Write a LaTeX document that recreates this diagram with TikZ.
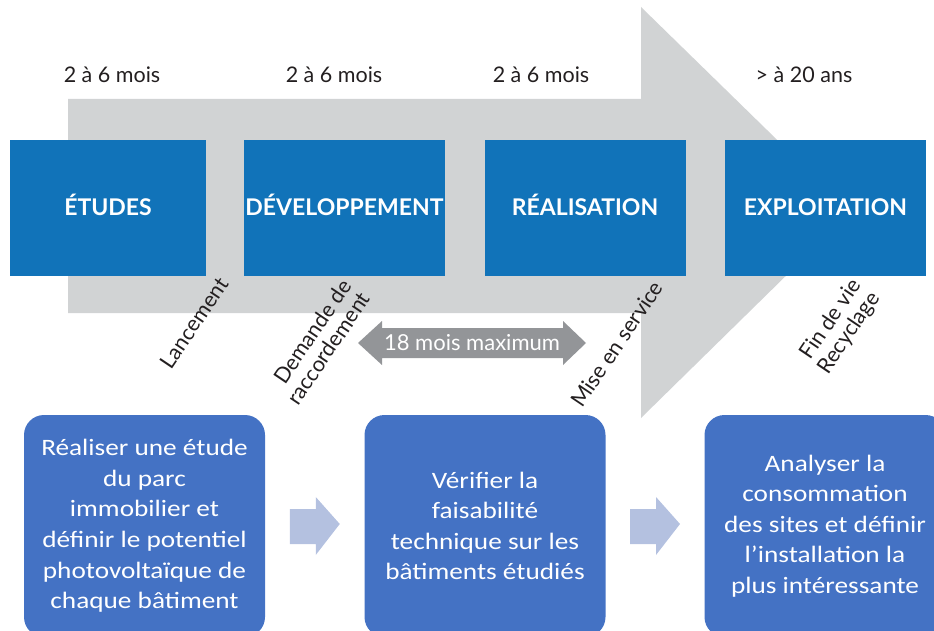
\documentclass[tikz,border=0pt]{standalone}
\usepackage{fontspec}
\setmainfont{Lato}
\newfontfamily\calfont[FakeStretch=1.16]{Carlito}
\usetikzlibrary{calc}
\definecolor{phaseblue}{RGB}{17,115,185}
\definecolor{bandgray}{RGB}{209,211,212}
\definecolor{spangray}{RGB}{147,149,152}
\definecolor{stepblue}{RGB}{68,114,196}
\definecolor{paleblue}{RGB}{180,193,224}
\definecolor{ink}{RGB}{35,31,32}
\begin{document}
\begin{tikzpicture}[x=1pt,y=-1pt,
  phase/.style={fill=phaseblue, text=white, minimum width=201pt, minimum height=136pt,
    inner sep=0pt, text height=14pt, text depth=0pt,
    font=\fontsize{23}{26}\selectfont\bfseries},
  duration/.style={text=ink, anchor=base, inner sep=0pt, font=\fontsize{21.5}{24}\selectfont},
  milestone/.style={text=ink, rotate=56, align=right, inner sep=0pt,
    font=\fontsize{21.5}{22.5}\selectfont},
  stepbox/.style={fill=stepblue, text=white, rounded corners=20pt, minimum width=241pt,
    minimum height=222pt, align=center, inner sep=0pt,
    font=\calfont\fontsize{23.5}{30.6}\selectfont},
  stepflow/.style={fill=paleblue}
]
\useasboundingbox (0,0) rectangle (934,631);
\clip (0,0) rectangle (934,631);

% timeline band with its arrowhead
\fill[bandgray] (68,99) -- (641,99) -- (641,7) -- (851,212) -- (641,418)
  -- (641,313) -- (68,313) -- cycle;

% durations
\node[duration] (d1) at (112,83) {2 à 6 mois};
\node[duration] (d2) at (334,83) {2 à 6 mois};
\node[duration] (d3) at (541,83) {2 à 6 mois};
\node[duration] (d4) at (804,83) {> à 20 ans};

% phases
\node[phase, minimum width=196pt] (etudes) at (108,208) {ÉTUDES};
\node[phase] (dev) at (344.5,208) {DÉVELOPPEMENT};
\node[phase] (real) at (585,208) {RÉALISATION};
\node[phase] (expl) at (825.5,208) {EXPLOITATION};

% milestones
\node[milestone] (m1) at (194,323) {Lancement};
\node[milestone] (m2) at (319,342) {Demande de\\raccordement};
\node[milestone] (m3) at (617,344) {Mise en service};
\node[milestone] (m4) at (840,327) {Fin de vie\\Recyclage};

% maximum span between the two milestones
\fill[spangray] (358,343) -- (382,321) -- (382,328) -- (563,328) -- (563,321)
  -- (586,343) -- (563,365) -- (563,358) -- (382,358) -- (382,365) -- cycle;
\node[text=white, inner sep=0pt, font=\fontsize{22}{24}\selectfont] (span) at (472,343) {18 mois maximum};

% steps
\node[stepbox] (s1) at (144.5,526) {Réaliser une étude\\du parc\\immobilier et\\définir le potentiel\\photovoltaïque de\\chaque bâtiment};
\node[stepbox] (s2) at (485,526) {Vérifier la\\faisabilité\\technique sur les\\bâtiments étudiés};
\node[stepbox] (s3) at (825,526) {Analyser la\\consommation\\des sites et définir\\l’installation la\\plus intéressante};

% block arrows between steps
\foreach \a/\b in {s1/s2, s2/s3}{
  \coordinate (mid) at ($(\a.east)!0.5!(\b.west)$);
  \fill[stepflow] ($(mid)+(-25,-17)$) -- ($(mid)+(1,-17)$) -- ($(mid)+(1,-29)$)
    -- ($(mid)+(25,-2)$) -- ($(mid)+(1,29)$) -- ($(mid)+(1,18)$)
    -- ($(mid)+(-25,18)$) -- cycle;
}
\end{tikzpicture}
\end{document}
